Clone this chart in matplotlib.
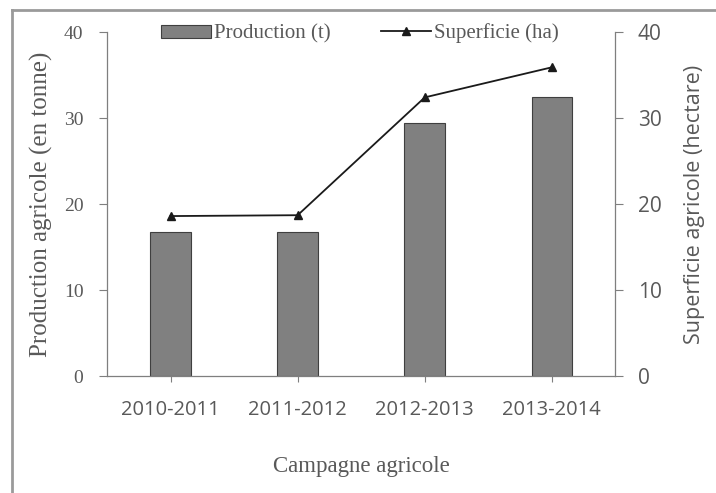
import numpy as np
import matplotlib
matplotlib.use('Agg')
import matplotlib.pyplot as plt
from matplotlib.lines import Line2D

CAMPAGNES = ['2010-2011', '2011-2012', '2012-2013', '2013-2014']
PRODUCTION = [16.7, 16.7, 29.4, 32.4]   # tonnes
SUPERFICIE = [18.6, 18.7, 32.4, 35.9]   # hectares
Y_TICKS = [0, 10, 20, 30, 40]

TXT = '#595959'
SPINE = '#7f7f7f'
SERIF = 'Liberation Serif'
SANS = 'Open Sans'

fig = plt.figure(figsize=(7.16, 4.93), dpi=100)
ax = fig.add_axes([0.1494, 0.2373, 0.7101, 0.6977])

x = np.arange(len(CAMPAGNES))
ax.bar(x, PRODUCTION, width=0.32, color='#808080', edgecolor='#3f3f3f',
       linewidth=0.8, label='Production (t)', zorder=2)
ax.set_xlim(-0.5, len(CAMPAGNES) - 0.5)
ax.set_ylim(0, 40)
ax.set_yticks(Y_TICKS)
ax.set_xticks(x)
ax.set_xticklabels(CAMPAGNES, family=SANS, fontsize=14.5, color=TXT)
ax.set_yticklabels([str(v) for v in Y_TICKS], family=SERIF, fontsize=14, color=TXT)
ax.tick_params(axis='y', direction='out', length=6, width=0.8, color=SPINE, pad=11)
ax.tick_params(axis='x', direction='out', length=4, width=0.8, color=SPINE, pad=13)
ax.set_ylabel('Production agricole (en tonne)', family=SERIF, fontsize=18,
              color=TXT, labelpad=8)
ax.set_xlabel('Campagne agricole', family=SERIF, fontsize=16.5, color=TXT, labelpad=26)
for s in ['top', 'right']:
    ax.spines[s].set_visible(False)
for s in ['left', 'bottom']:
    ax.spines[s].set_color(SPINE)
    ax.spines[s].set_linewidth(0.9)

ax2 = ax.twinx()
ax2.plot(x, SUPERFICIE, color='#1a1a1a', linewidth=1.3, marker='^',
         markersize=6, label='Superficie (ha)', zorder=3)
ax2.set_ylim(0, 40)
ax2.set_yticks(Y_TICKS)
ax2.set_yticklabels([str(v) for v in Y_TICKS], family=SANS, fontsize=15, color=TXT)
ax2.tick_params(axis='y', direction='out', length=6, width=0.8, color=SPINE, pad=10)
ax2.set_ylabel('Superficie agricole (hectare)', family=SANS, fontsize=15.5,
               color=TXT, labelpad=16)
for s in ['top', 'left', 'bottom']:
    ax2.spines[s].set_visible(False)
ax2.spines['right'].set_color(SPINE)
ax2.spines['right'].set_linewidth(0.9)

handles = [plt.Rectangle((0, 0), 1, 1, facecolor='#808080', edgecolor='#3f3f3f', linewidth=0.8),
           Line2D([0], [0], color='#1a1a1a', linewidth=1.3, marker='^', markersize=6)]
fig.legend(handles, ['Production (t)', 'Superficie (ha)'], loc='center',
           bbox_to_anchor=(0.503, 0.932), ncol=2, frameon=False,
           prop={'family': SERIF, 'size': 15}, labelcolor=TXT,
           handlelength=2.4, handleheight=0.6, handletextpad=0.15, columnspacing=2.4)

# outer frame (top and left edges visible in the crop)
fig.add_artist(Line2D([12 / 716, 12 / 716], [0, 1 - 10 / 493], transform=fig.transFigure,
                      color='#9a9a9a', linewidth=2))
fig.add_artist(Line2D([12 / 716, 1], [1 - 10 / 493, 1 - 10 / 493], transform=fig.transFigure,
                      color='#9a9a9a', linewidth=2))

fig.savefig('out.png', dpi=100)
